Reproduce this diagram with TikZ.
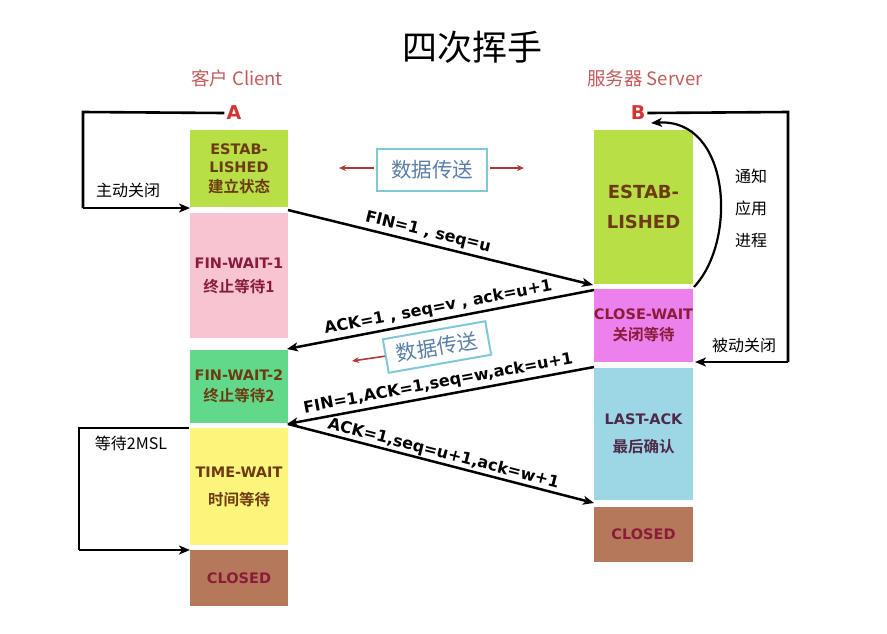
\documentclass[tikz,border=0pt]{standalone}
\usepackage{fontspec}
\setmainfont{Noto Sans CJK SC}[BoldFont={Noto Sans CJK SC Bold}]
\newfontfamily\latfont{DejaVu Sans}
\usetikzlibrary{arrows.meta}
\definecolor{cEst}{HTML}{B8E046}
\definecolor{cPink}{HTML}{F8C4D2}
\definecolor{cGreen}{HTML}{62D98A}
\definecolor{cYellow}{HTML}{FBF57C}
\definecolor{cBrown}{HTML}{B6785A}
\definecolor{cMag}{HTML}{EC80EC}
\definecolor{cBlue}{HTML}{9DD6E5}
\definecolor{tBrown}{HTML}{6E3A12}
\definecolor{tRed}{HTML}{8A1C3A}
\definecolor{tDark}{HTML}{4E2A48}
\definecolor{hdr}{HTML}{C45A5A}
\definecolor{abRed}{HTML}{D23434}
\definecolor{boxLine}{HTML}{80C8D8}
\definecolor{boxText}{HTML}{5A7FA8}
\definecolor{redArr}{HTML}{B03838}
\newcommand{\lt}[1]{{\latfont\bfseries\fontsize{14.5}{18}\selectfont #1}}
\newcommand{\zh}[1]{{\bfseries\fontsize{15.5}{18}\selectfont #1}}
\begin{document}
\begin{tikzpicture}[x=1pt,y=-1pt,
  state/.style={draw=none,inner sep=0pt,align=center,font=\fontsize{15}{18}\selectfont},
  cbox/.style={state,minimum width=98pt},
  sbox/.style={state,minimum width=99pt},
  msg/.style={line width=2.5pt,-{Stealth[length=11pt,width=9pt,inset=3pt]}},
  loopln/.style={line width=2.6pt,-{Stealth[length=11pt,width=9pt,inset=3pt]}},
  plain/.style={line width=2.6pt},
  mlabel/.style={font=\latfont\fontsize{16}{20}\selectfont\bfseries,sloped,above,inner sep=3pt},
  side/.style={font=\fontsize{16}{19}\selectfont},
  databox/.style={draw=boxLine,line width=2pt,fill=white,text=boxText,font=\fontsize{20.5}{22}\selectfont,minimum width=110pt,minimum height=42pt},
  redarrow/.style={draw=redArr,line width=1.6pt,-{Stealth[length=7pt,width=6pt]}}
]
\useasboundingbox (0,0) rectangle (887,633);

% title and headers
\node (title) at (472,47) {\fontsize{35}{38}\selectfont 四次挥手};
\node[text=hdr,font=\fontsize{18.5}{20}\selectfont] (chdr) at (237,78) {客户 Client};
\node[text=hdr,font=\fontsize{18.5}{20}\selectfont] (shdr) at (645,78) {服务器 Server};
\node[text=abRed,font=\latfont\fontsize{19}{20}\selectfont\bfseries,inner sep=2pt] (A) at (234,113) {A};
\node[text=abRed,font=\latfont\fontsize{19}{20}\selectfont\bfseries,inner sep=2pt] (B) at (638,113) {B};

% client boxes
\node[cbox,fill=cEst,text=tBrown,minimum height=77pt] (estA) at (239,168.5) {\lt{ESTAB-}\\\lt{LISHED}\\[2pt]\zh{建立状态}};
\node[cbox,fill=cPink,text=tRed,minimum height=125pt] (fw1) at (239,275.5) {\lt{FIN-WAIT-1}\\[6pt]\zh{终止等待1}};
\node[cbox,fill=cGreen,text=tBrown,minimum height=73pt] (fw2) at (239,386.5) {\lt{FIN-WAIT-2}\\[3pt]\zh{终止等待2}};
\node[cbox,fill=cYellow,text=tBrown,minimum height=117pt] (tw) at (239,486.5) {\lt{TIME-WAIT}\\[10pt]\zh{时间等待}};
\node[cbox,fill=cBrown,text=tRed,minimum height=56pt] (clA) at (239,578) {\lt{CLOSED}};

% server boxes
\node[sbox,fill=cEst,text=tBrown,minimum height=154pt,font=\latfont\fontsize{18}{30}\selectfont\bfseries] (estB) at (643.5,207) {ESTAB-\\LISHED};
\node[sbox,fill=cMag,text=tRed,minimum height=73pt] (cw) at (643.5,325.5) {\lt{CLOSE-WAIT}\\[3pt]\zh{关闭等待}};
\node[sbox,fill=cBlue,text=tDark,minimum height=132pt] (la) at (643.5,434) {\lt{LAST-ACK}\\[10pt]\zh{最后确认}};
\node[sbox,fill=cBrown,text=tRed,minimum height=55pt] (clB) at (643.5,534.5) {\lt{CLOSED}};

% message end points
\coordinate (m1s) at (288,210);
\coordinate (m1e) at (593,285);
\coordinate (m2s) at (594,290);
\coordinate (m2e) at (287,349);
\coordinate (m3s) at (594,367);
\coordinate (m3e) at (287,424);
\coordinate (m4s) at (288,424);
\coordinate (m4e) at (594,503);

\draw[msg] (m1s) -- node[mlabel,pos=0.45] {FIN=1 , seq=u} (m1e);
\draw[msg] (m2s) -- node[mlabel,pos=0.5] {ACK=1 , seq=v , ack=u+1} (m2e);
\draw[msg] (m3s) -- node[mlabel,pos=0.5] {FIN=1,ACK=1,seq=w,ack=u+1} (m3e);
\draw[msg] (m4s) -- node[mlabel,pos=0.5,inner sep=1pt] {ACK=1,seq=u+1,ack=w+1} (m4e);

% data transfer boxes
\node[databox] (d1) at (432,170) {数据传送};
\coordinate (d1l) at (339,168);
\coordinate (d1r) at (524,168);
\draw[redarrow] (d1.west |- d1l) ++(-2,0) -- (d1l);
\draw[redarrow] (d1.east |- d1r) ++(2,0) -- (d1r);

\node[databox,rotate=10,minimum width=104pt,minimum height=34pt] (d2) at (437,347) {数据传送};
\coordinate (d2l) at (352,361);
\draw[redarrow] (d2.west) -- (d2l);

% client loops
\coordinate (l1a) at (83,112);
\coordinate (l1b) at (83,208);
\coordinate (l1c) at (190,208);
\draw[plain] (A.west) -- (l1a) -- (l1b);
\draw[loopln] (l1b) -- (l1c);
\node[side] (zdgb) at (128,190) {主动关闭};

\coordinate (l2a) at (189,428);
\coordinate (l2b) at (79,428);
\coordinate (l2c) at (79,550);
\coordinate (l2d) at (190,550);
\draw[plain] (l2a) -- (l2b) -- (l2c);
\draw[loopln] (l2c) -- (l2d);
\node[side] (wait) at (131,443) {等待2MSL};

% server loops
\coordinate (r1a) at (788,112);
\coordinate (r1b) at (788,362);
\coordinate (r1c) at (695,362);
\draw[plain] (B.east) -- (r1a) -- (r1b);
\draw[loopln] (r1b) -- (r1c);
\node[side] (bdgb) at (744,345) {被动关闭};

\coordinate (cv1) at (694,287);
\coordinate (cv2) at (651,123);
\draw[loopln,line width=2.2pt] (cv1) .. controls (738,240) and (730,118) .. (cv2);
\node[side,align=center,font=\fontsize{16}{32}\selectfont] (tz) at (751,208) {通知\\应用\\进程};
\end{tikzpicture}
\end{document}
